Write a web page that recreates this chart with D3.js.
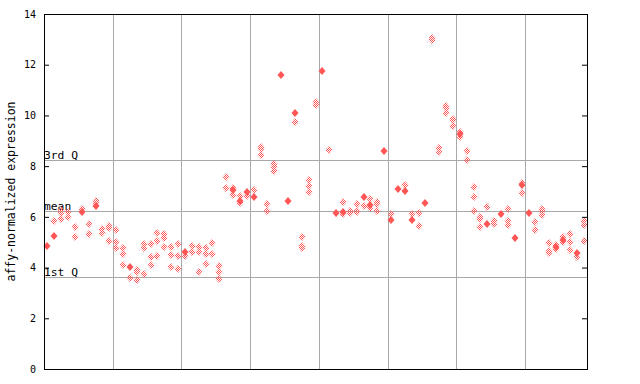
<!DOCTYPE html>
<html>
<head>
<meta charset="utf-8">
<script src="https://d3js.org/d3.v7.min.js"></script>
<style>
body { margin: 0; background: #fff; }
svg { display: block; }
.tick text { font-family: 'DejaVu Sans Mono', monospace; font-size: 10px; fill: #000; }
.tick line { stroke: #000; }
</style>
</head>
<body>
<div id="plot"></div>
<script>

var width = 640;
var height = 384;
var plotLeft = 44, plotRight = 587, plotTop = 14, plotBottom = 369;

// one column per sample
// hatched diamonds per column
var hatched = [
  [], [5.84], [6.27, 6.14, 5.90], [6.19, 6.01], [5.59, 5.19],
  [6.30], [5.71, 5.31], [6.62, 6.55], [5.52, 5.35], [5.64, 5.57, 5.03],
  [5.48, 5.00, 4.76], [4.77, 4.52, 4.09], [3.59], [3.90, 3.81, 3.50], [4.93, 4.76, 3.73],
  [4.93, 4.40, 4.10], [5.35, 5.03, 4.44], [5.31, 5.15, 4.80], [4.80, 4.48, 4.02], [4.92, 4.44, 3.93],
  [4.47], [4.84, 4.60], [4.80, 4.60, 3.81], [4.76, 4.52, 4.13], [4.96, 4.52],
  [4.05, 3.81, 3.54], [7.56, 7.12], [7.15, 6.88], [6.82, 6.53], [6.84],
  [7.05], [8.74, 8.68, 8.44], [6.49, 6.24], [8.07, 7.98, 7.82], [],
  [], [9.74], [5.19, 4.86, 4.78], [7.45, 7.22, 6.98], [10.54, 10.42],
  [], [8.62], [], [6.57, 6.10], [6.24, 6.14],
  [6.49, 6.24, 6.18], [6.41], [6.69, 6.36], [6.60, 6.52, 6.22], [],
  [6.10], [], [7.24], [6.10], [6.14, 5.63],
  [], [13.04, 12.97], [8.72, 8.54], [10.37, 10.29, 10.08], [9.87, 9.81, 9.57],
  [9.33, 9.14], [8.58, 8.23], [7.16, 6.77, 6.22], [5.98, 5.90, 5.59], [6.38],
  [5.82, 5.73], [], [6.30, 5.82, 5.67], [], [7.32, 6.93],
  [], [5.78, 5.47], [6.30, 6.22, 6.09], [4.96, 4.64, 4.56], [4.88, 4.75],
  [5.19, 5.00], [5.31, 5.00, 4.68], [4.40], [5.82, 5.67, 5.04]
];

// solid diamonds per column
var solid = [
  [4.84], [5.25], [], [], [],
  [6.18], [], [6.44], [], [],
  [], [], [4.04], [], [],
  [], [], [], [], [],
  [4.61], [], [], [], [],
  [], [], [7.05], [6.64], [6.97],
  [6.80], [], [], [], [11.61],
  [6.64], [10.11], [], [], [],
  [11.74], [], [6.17], [6.18], [],
  [], [6.78], [6.45], [], [8.58],
  [5.89], [7.10], [7.02], [5.89], [],
  [6.53], [], [], [], [],
  [9.26], [], [], [], [5.73],
  [], [6.12], [], [5.15], [7.24],
  [6.17], [], [], [], [4.80],
  [5.09], [], [4.56], []
];

var yTicks = [0, 2, 4, 6, 8, 10, 12, 14];
var refLines = [
  { label: "3rd Q", value: 8.23 },
  { label: "mean", value: 6.22 },
  { label: "1st Q", value: 3.63 }
];
var groupSize = 10;

var red = "#ff5555";
var grid = "#a8a8a8";

var svg = d3.select("#plot").append("svg").attr("width", width).attr("height", height);

var pat = svg.append("defs").append("pattern")
  .attr("id", "hatch").attr("patternUnits", "userSpaceOnUse")
  .attr("width", 2).attr("height", 2);
pat.append("rect").attr("x", 0).attr("y", 0).attr("width", 1).attr("height", 1).attr("fill", red);
pat.append("rect").attr("x", 1).attr("y", 1).attr("width", 1).attr("height", 1).attr("fill", red);

var xScale = d3.scaleBand().domain(d3.range(hatched.length)).range([plotLeft, plotRight]);
var yScale = d3.scaleLinear().domain([0, 14]).range([plotBottom, plotTop]);

function px(v) { return Math.round(v) + 0.5; }

// vertical group lines
var groups = d3.range(groupSize, hatched.length, groupSize);
svg.selectAll(".vgrid").data(groups).enter().append("line")
  .attr("class", "vgrid")
  .attr("x1", function(d) { return px(xScale(d)); })
  .attr("x2", function(d) { return px(xScale(d)); })
  .attr("y1", plotTop).attr("y2", plotBottom)
  .style("stroke", grid).style("shape-rendering", "crispEdges");

// quartile / mean lines
svg.selectAll(".hgrid").data(refLines).enter().append("line")
  .attr("class", "hgrid")
  .attr("x1", plotLeft).attr("x2", plotRight)
  .attr("y1", function(d) { return px(yScale(d.value)); })
  .attr("y2", function(d) { return px(yScale(d.value)); })
  .style("stroke", grid).style("shape-rendering", "crispEdges");

svg.selectAll(".reflabel").data(refLines).enter().append("text")
  .attr("class", "reflabel")
  .attr("x", plotLeft)
  .attr("y", function(d) { return Math.round(yScale(d.value)) - 1; })
  .style("font-family", "'DejaVu Sans Mono', monospace")
  .style("font-size", "11.3px")
  .text(function(d) { return d.label; });

// flatten points
var pts = [];
hatched.forEach(function(col, i) {
  col.forEach(function(v) { pts.push({ i: i, v: v, solid: false }); });
});
solid.forEach(function(col, i) {
  col.forEach(function(v) { pts.push({ i: i, v: v, solid: true }); });
});

function diamond(d) {
  var cx = Math.round(xScale(d.i) + xScale.bandwidth() / 2);
  var cy = Math.round(yScale(d.v));
  return "M" + (cx - 3.5) + "," + cy + "L" + cx + "," + (cy - 4) +
    "L" + (cx + 3.5) + "," + cy + "L" + cx + "," + (cy + 4) + "Z";
}

svg.selectAll(".pt").data(pts).enter().append("path")
  .attr("class", "pt")
  .attr("d", diamond)
  .attr("fill", function(d) { return d.solid ? red : "url(#hatch)"; });

// axes
svg.append("g")
  .attr("transform", "translate(" + plotLeft + ",0)")
  .call(d3.axisLeft(yScale).tickValues(yTicks).tickSizeInner(-5).tickSizeOuter(0).tickPadding(8))
  .call(function(g) { g.select(".domain").remove(); });

svg.append("g")
  .attr("transform", "translate(" + plotRight + ",0)")
  .call(d3.axisRight(yScale).tickValues(yTicks).tickSizeInner(-5).tickSizeOuter(0).tickFormat(""))
  .call(function(g) { g.select(".domain").remove(); });

svg.append("rect")
  .attr("x", plotLeft + 0.5).attr("y", plotTop + 0.5)
  .attr("width", plotRight - plotLeft).attr("height", plotBottom - plotTop)
  .style("fill", "none").style("stroke", "#000").style("shape-rendering", "crispEdges");

svg.append("text")
  .attr("transform", "translate(15," + (plotTop + plotBottom) / 2 + ") rotate(-90)")
  .attr("text-anchor", "middle")
  .style("font-family", "'DejaVu Sans Mono', monospace")
  .style("font-size", "11.5px")
  .text("affy-normalized expression");

</script>
</body>
</html>
